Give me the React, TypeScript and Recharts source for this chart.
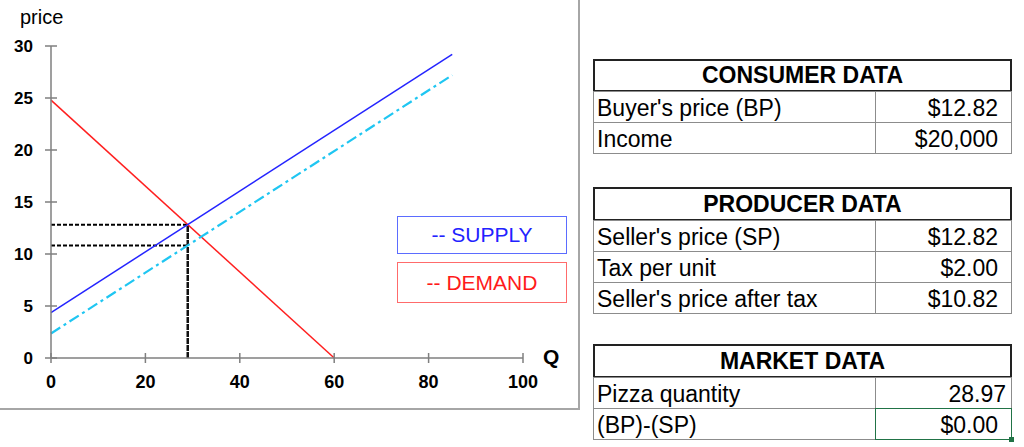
import { LineChart, Line, XAxis, YAxis, ReferenceLine } from "recharts";

const quantityTicks = [0, 20, 40, 60, 80, 100];
const priceTicks = [0, 5, 10, 15, 20, 25, 30];

const supplyPoints = [
  { q: 0, p: 4.36 },
  { q: 85, p: 29.2 },
];
const supplyTaxPoints = [
  { q: 0, p: 2.36 },
  { q: 85, p: 27.2 },
];
const demandPoints = [
  { q: 0, p: 24.8 },
  { q: 60, p: 0 },
];

const equilibriumQ = 28.97;
const buyersPrice = 12.82;
const sellersAfterTax = 10.82;

const consumerRows = [
  ["Buyer's price (BP)", "$12.82"],
  ["Income", "$20,000"],
];
const producerRows = [
  ["Seller's price (SP)", "$12.82"],
  ["Tax per unit", "$2.00"],
  ["Seller's price after tax", "$10.82"],
];
const marketRows = [
  ["Pizza quantity", "28.97"],
  ["(BP)-(SP)", "$0.00"],
];

const FONT = '"Liberation Sans", Arial, Helvetica, sans-serif';
const AXIS = "#7f7f7f";

function YTick(props: any) {
  const { x, y, payload } = props;
  const ax = x + 18;
  return (
    <g>
      <line x1={ax - 6} x2={ax + 6} y1={y} y2={y} stroke={AXIS} strokeWidth={1.5} />
      <text x={x} y={y + 6} textAnchor="end" fontSize={17} fontWeight="bold" fill="#000" fontFamily={FONT}>
        {payload.value}
      </text>
    </g>
  );
}

function XTick(props: any) {
  const { x, y, payload } = props;
  return (
    <g>
      <line x1={x} x2={x} y1={y - 10} y2={y} stroke={AXIS} strokeWidth={1.5} />
      <text x={x} y={y + 25} textAnchor="middle" fontSize={18} fontWeight="bold" fill="#000" fontFamily={FONT}>
        {payload.value}
      </text>
    </g>
  );
}

function DataTable({ top, title, rows, headerHeight, numericLast }: any) {
  const left = 593;
  const width = 419;
  const split = 875;
  return (
    <>
      <div
        style={{
          position: "absolute",
          left,
          top,
          width,
          height: headerHeight,
          boxSizing: "border-box",
          border: "2px solid #222",
          display: "flex",
          alignItems: "center",
          justifyContent: "center",
          fontWeight: "bold",
          fontSize: 23,
        }}
      >
        {title}
      </div>
      {rows.map((r: string[], i: number) => {
        const rowTop = top + headerHeight + i * 31 - 1;
        const selected = numericLast && i === rows.length - 1;
        const isPlainNumber = !r[1].startsWith("$");
        return (
          <div key={i}>
            <div
              style={{
                position: "absolute",
                left,
                top: rowTop,
                width: split - left + 1,
                height: 32,
                boxSizing: "border-box",
                border: "1px solid #8c8c8c",
                display: "flex",
                alignItems: "center",
                paddingLeft: 3,
                paddingTop: 3,
                fontSize: 23,
              }}
            >
              {r[0]}
            </div>
            <div
              style={{
                position: "absolute",
                left: split,
                top: rowTop,
                width: left + width - split,
                height: 32,
                boxSizing: "border-box",
                border: selected ? "1.5px solid #217346" : "1px solid #8c8c8c",
                display: "flex",
                alignItems: "center",
                justifyContent: "flex-end",
                paddingRight: isPlainNumber ? 5 : 13,
                paddingTop: 3,
                fontSize: 23,
              }}
            >
              {r[1]}
            </div>
            {selected && (
              <div
                style={{
                  position: "absolute",
                  left: left + width - 3,
                  top: rowTop + 29,
                  width: 5,
                  height: 5,
                  background: "#217346",
                }}
              />
            )}
          </div>
        );
      })}
    </>
  );
}

export default function App() {
  return (
    <div
      style={{
        position: "fixed",
        left: 0,
        top: 0,
        width: 1024,
        height: 447,
        background: "#fff",
        fontFamily: FONT,
        color: "#000",
        overflow: "hidden",
      }}
    >
      <div
        style={{
          position: "absolute",
          left: -10,
          top: -10,
          width: 590,
          height: 420,
          boxSizing: "border-box",
          borderRight: "2px solid #a6a6a6",
          borderBottom: "2px solid #a6a6a6",
        }}
      />
      <div style={{ position: "absolute", left: 0, top: 0 }}>
        <LineChart width={580} height={409} margin={{ top: 46, right: 57, bottom: 21, left: 0 }}>
          <XAxis
            dataKey="q"
            type="number"
            domain={[0, 100]}
            ticks={quantityTicks}
            height={30}
            tickSize={5}
            tickMargin={0}
            tickLine={false}
            axisLine={{ stroke: AXIS, strokeWidth: 1.5 }}
            tick={XTick}
            interval={0}
          />
          <YAxis
            type="number"
            domain={[0, 30]}
            ticks={priceTicks}
            width={51}
            tickSize={6}
            tickMargin={12}
            tickLine={false}
            axisLine={{ stroke: AXIS, strokeWidth: 1.5 }}
            tick={YTick}
            interval={0}
          />
          <ReferenceLine
            segment={[
              { x: 0, y: buyersPrice },
              { x: equilibriumQ, y: buyersPrice },
            ]}
            stroke="#000"
            strokeWidth={2}
            strokeDasharray="4 2"
          />
          <ReferenceLine
            segment={[
              { x: 0, y: sellersAfterTax },
              { x: equilibriumQ, y: sellersAfterTax },
            ]}
            stroke="#000"
            strokeWidth={2}
            strokeDasharray="4 2"
          />
          <ReferenceLine
            segment={[
              { x: equilibriumQ, y: 0 },
              { x: equilibriumQ, y: buyersPrice },
            ]}
            stroke="#111"
            strokeWidth={2.5}
            strokeDasharray="6 1"
          />
          <Line
            data={demandPoints}
            dataKey="p"
            stroke="#ff1f1f"
            strokeWidth={1.5}
            dot={false}
            isAnimationActive={false}
          />
          <Line
            data={supplyTaxPoints}
            dataKey="p"
            stroke="#1fc6f2"
            strokeWidth={2.2}
            strokeDasharray="11 4 3 4"
            dot={false}
            isAnimationActive={false}
          />
          <Line
            data={supplyPoints}
            dataKey="p"
            stroke="#2424ff"
            strokeWidth={1.5}
            dot={false}
            isAnimationActive={false}
          />
        </LineChart>
      </div>

      <div style={{ position: "absolute", left: 20, top: 5, fontSize: 20, lineHeight: "24px" }}>price</div>
      <div style={{ position: "absolute", left: 543, top: 345, fontSize: 21, fontWeight: "bold", lineHeight: "24px" }}>
        Q
      </div>

      <div
        style={{
          position: "absolute",
          left: 397,
          top: 216,
          width: 170,
          height: 38,
          boxSizing: "border-box",
          border: "1.5px solid #5b6cff",
          display: "flex",
          alignItems: "center",
          justifyContent: "center",
          color: "#2222ff",
          fontSize: 21,
        }}
      >
        -- SUPPLY
      </div>
      <div
        style={{
          position: "absolute",
          left: 397,
          top: 262,
          width: 170,
          height: 41,
          boxSizing: "border-box",
          border: "1.5px solid #ff6b6b",
          display: "flex",
          alignItems: "center",
          justifyContent: "center",
          color: "#ff1a1a",
          fontSize: 21,
        }}
      >
        -- DEMAND
      </div>

      <DataTable top={59} title="CONSUMER DATA" rows={consumerRows} headerHeight={33} />
      <DataTable top={187} title="PRODUCER DATA" rows={producerRows} headerHeight={34} />
      <DataTable top={344} title="MARKET DATA" rows={marketRows} headerHeight={34} numericLast />
    </div>
  );
}
